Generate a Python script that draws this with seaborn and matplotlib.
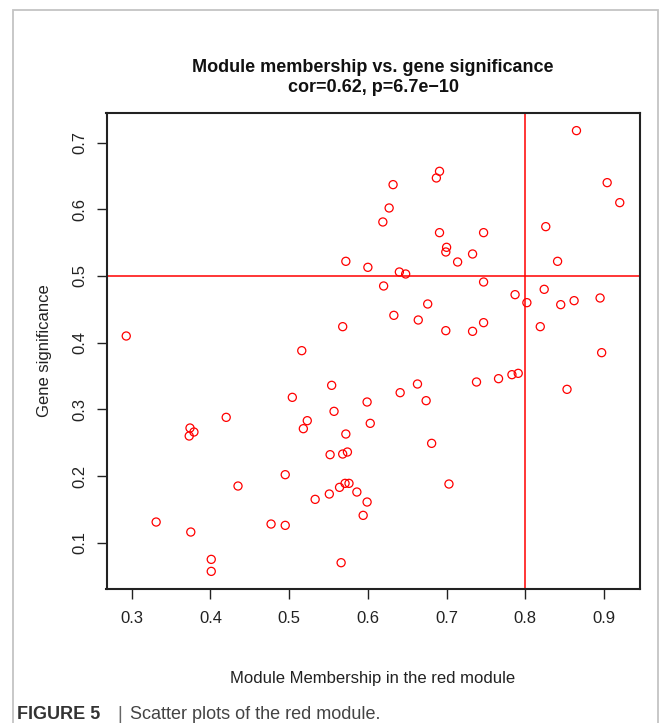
import numpy as np
import pandas as pd
import matplotlib
matplotlib.use("Agg")
import matplotlib.pyplot as plt
import seaborn as sns
from matplotlib.patches import Rectangle

# ---- data ----
module_membership = [
    0.865, 0.904, 0.920, 0.826, 0.841,
    0.691, 0.687, 0.632, 0.627, 0.619, 0.691, 0.747, 0.700, 0.699, 0.733,
    0.714, 0.572, 0.600, 0.640, 0.648,
    0.620, 0.747, 0.787, 0.802, 0.824, 0.845, 0.862, 0.895, 0.676, 0.633,
    0.664, 0.699, 0.733, 0.747, 0.819, 0.568, 0.293, 0.516, 0.897, 0.853,
    0.641, 0.663, 0.674, 0.738, 0.766, 0.783, 0.791, 0.554, 0.504, 0.599,
    0.557, 0.603, 0.523, 0.518, 0.420, 0.374, 0.379, 0.373, 0.572, 0.552,
    0.568, 0.574, 0.495, 0.435, 0.564, 0.571, 0.576, 0.586, 0.533, 0.551,
    0.599, 0.594, 0.331, 0.375, 0.477, 0.495, 0.401, 0.401, 0.566, 0.681,
    0.703,
]
gene_significance = [
    0.718, 0.640, 0.610, 0.574, 0.522,
    0.657, 0.647, 0.637, 0.602, 0.581, 0.565, 0.565, 0.543, 0.536, 0.533,
    0.521, 0.522, 0.513, 0.506, 0.503,
    0.485, 0.491, 0.472, 0.460, 0.480, 0.457, 0.463, 0.467, 0.458, 0.441,
    0.434, 0.418, 0.417, 0.430, 0.424, 0.424, 0.410, 0.388, 0.385, 0.330,
    0.325, 0.338, 0.313, 0.341, 0.346, 0.352, 0.354, 0.336, 0.318, 0.311,
    0.297, 0.279, 0.283, 0.271, 0.288, 0.272, 0.266, 0.260, 0.263, 0.232,
    0.233, 0.236, 0.202, 0.185, 0.183, 0.189, 0.189, 0.176, 0.165, 0.173,
    0.161, 0.141, 0.131, 0.116, 0.128, 0.126, 0.075, 0.057, 0.070, 0.249,
    0.188,
]
mm_threshold = 0.8
gs_threshold = 0.5
x_ticks = [0.3, 0.4, 0.5, 0.6, 0.7, 0.8, 0.9]
y_ticks = [0.1, 0.2, 0.3, 0.4, 0.5, 0.6, 0.7]

title = "Module membership vs. gene significance\ncor=0.62, p=6.7e\u221210"
xlabel = "Module Membership in the red module"
ylabel = "Gene significance"

df = pd.DataFrame({"mm": module_membership, "gs": gene_significance})

# ---- figure ----
sns.set_style("white")
plt.rcParams["font.family"] = ["Liberation Sans", "DejaVu Sans"]

W, H = 665, 723
fig = plt.figure(figsize=(W / 100, H / 100), dpi=100)
ax = fig.add_axes([106.5 / W, 1 - 589 / H, (639.5 - 106.5) / W, (589 - 113) / H])

# light gray page border
fig.patches.append(Rectangle((13 / W, -0.05), (658 - 13) / W, 1 - 10 / H + 0.05,
                             transform=fig.transFigure, fill=False,
                             edgecolor="#c4c4c4", linewidth=1.3, zorder=0))

sns.scatterplot(data=df, x="mm", y="gs", ax=ax, marker="o", s=34,
                facecolor="none", edgecolor="#ff0000", linewidth=0.9, zorder=3)

ax.axhline(gs_threshold, color="#ff0000", linewidth=1.1, zorder=2)
ax.axvline(mm_threshold, color="#ff0000", linewidth=1.1, zorder=2)

# R-style 4% padding
xr = max(module_membership) - min(module_membership)
yr = max(gene_significance) - min(gene_significance)
ax.set_xlim(min(module_membership) - 0.04 * xr, max(module_membership) + 0.04 * xr)
ax.set_ylim(min(gene_significance) - 0.04 * yr, max(gene_significance) + 0.04 * yr)

ax.set_xticks(x_ticks)
ax.set_yticks(y_ticks)
ax.set_xticklabels([f"{v:.1f}" for v in x_ticks])
ax.set_yticklabels([f"{v:.1f}" for v in y_ticks], rotation=90, va="center")
ax.tick_params(axis="both", direction="out", length=7.5, width=1.0,
               color="#222222", labelsize=12, labelcolor="#222222",
               bottom=True, left=True)
ax.tick_params(axis="x", pad=8)
ax.tick_params(axis="y", pad=6)

for sp in ax.spines.values():
    sp.set_visible(True)
    sp.set_color("#222222")
    sp.set_linewidth(1.5)

ax.set_xlabel(xlabel, fontsize=12, color="#222222", labelpad=33)
ax.set_ylabel(ylabel, fontsize=12, color="#222222", labelpad=15)
ax.set_title(title, fontsize=13, fontweight="bold", color="#111111",
             pad=15, linespacing=1.25)

# caption
fig.text(17 / W, 1 - 719 / H, "FIGURE 5", fontsize=13, fontweight="bold",
         color="#333333", ha="left", va="baseline")
fig.text(117 / W, 1 - 719 / H, "|", fontsize=13, color="#666666",
         ha="left", va="baseline")
fig.text(130 / W, 1 - 719 / H, "Scatter plots of the red module.", fontsize=13,
         color="#444444", ha="left", va="baseline")

fig.savefig("out.png", dpi=100)
